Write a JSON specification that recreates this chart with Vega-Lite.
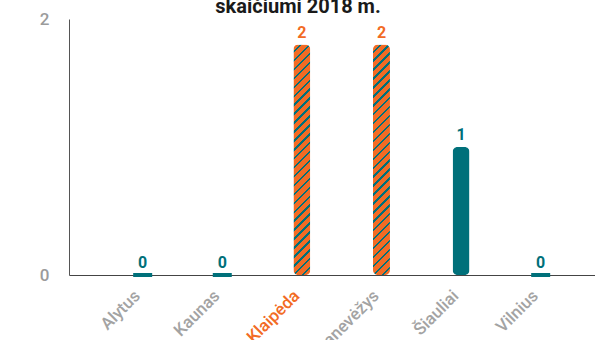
{
  "$schema": "https://vega.github.io/schema/vega-lite/v6.json",
  "width": 526,
  "height": 256,
  "autosize": "none",
  "padding": {"left": 69, "top": 19, "right": 0, "bottom": 65},
  "background": "white",
  "config": {"view": {"stroke": null}},
  "title": {
    "text": "skaičiumi 2018 m.",
    "font": "Roboto",
    "fontSize": 20,
    "fontWeight": "bold",
    "color": "#1a1a1a",
    "anchor": "middle",
    "dx": -34,
    "baseline": "top",
    "offset": -7
  },
  "data": {
    "values": [
      {"city": "Alytus", "value": 0, "label": "0"},
      {"city": "Kaunas", "value": 0, "label": "0"},
      {"city": "Klaipėda", "value": 1.8, "label": "2"},
      {"city": "Panevėžys", "value": 1.8, "label": "2"},
      {"city": "Šiauliai", "value": 1, "label": "1"},
      {"city": "Vilnius", "value": 0, "label": "0"}
    ]
  },
  "encoding": {
    "x": {
      "field": "city",
      "type": "nominal",
      "sort": ["Alytus", "Kaunas", "Klaipėda", "Panevėžys", "Šiauliai", "Vilnius"],
      "scale": {"domain": ["Alytus", "Kaunas", "Klaipėda", "Panevėžys", "Šiauliai", "Vilnius"], "paddingInner": 0, "paddingOuter": 0.304, "align": 0.7},
      "axis": {
        "title": null,
        "labelAngle": -45,
        "labelAlign": "right",
        "labelBaseline": "middle",
        "labelFont": "Roboto",
        "labelFontSize": 17,
        "labelFontWeight": 500,
        "labelColor": {"condition": {"test": "datum.value === 'Klaipėda'", "value": "#f26b24"}, "value": "#a3a3a3"},
        "ticks": false,
        "domainColor": "#444444",
        "labelPadding": 18,
        "labelOffset": -5
      }
    },
    "y": {
      "field": "value",
      "type": "quantitative",
      "scale": {"domain": [0, 2], "nice": false},
      "axis": {
        "title": null,
        "values": [0, 1, 2],
        "format": "d",
        "grid": false,
        "domainColor": "#555555",
        "tickSize": 11,
        "tickColor": {"condition": {"test": "datum.value === 1", "value": "#222222"}, "value": "transparent"},
        "labelExpr": "datum.value === 1 ? '' : datum.label",
        "labelFont": "Roboto",
        "labelFontSize": 17,
        "labelFontWeight": 500,
        "labelColor": "#9b9b9b",
        "labelPadding": 9
      }
    }
  },
  "layer": [
    {
      "transform": [{"filter": "datum.label === '1'"}],
      "mark": {"type": "bar", "size": 17, "cornerRadius": 5, "color": "#00707a"}
    },
    {
      "transform": [{"filter": "datum.label === '2'"}],
      "mark": {
        "type": "bar",
        "size": 17,
        "cornerRadius": 5,
        "color": {
          "gradient": "linear",
          "x1": 0, "y1": 0, "x2": 0.079, "y2": 1.07,
          "stops": [
            {"offset": 0, "color": "#f26b24"}, {"offset": 0.026, "color": "#f26b24"}, {"offset": 0.026, "color": "#00707a"}, {"offset": 0.036, "color": "#00707a"},
            {"offset": 0.036, "color": "#f26b24"}, {"offset": 0.062, "color": "#f26b24"}, {"offset": 0.062, "color": "#00707a"}, {"offset": 0.072, "color": "#00707a"},
            {"offset": 0.072, "color": "#f26b24"}, {"offset": 0.098, "color": "#f26b24"}, {"offset": 0.098, "color": "#00707a"}, {"offset": 0.108, "color": "#00707a"},
            {"offset": 0.108, "color": "#f26b24"}, {"offset": 0.134, "color": "#f26b24"}, {"offset": 0.134, "color": "#00707a"}, {"offset": 0.144, "color": "#00707a"},
            {"offset": 0.144, "color": "#f26b24"}, {"offset": 0.170, "color": "#f26b24"}, {"offset": 0.170, "color": "#00707a"}, {"offset": 0.180, "color": "#00707a"},
            {"offset": 0.180, "color": "#f26b24"}, {"offset": 0.206, "color": "#f26b24"}, {"offset": 0.206, "color": "#00707a"}, {"offset": 0.216, "color": "#00707a"},
            {"offset": 0.216, "color": "#f26b24"}, {"offset": 0.242, "color": "#f26b24"}, {"offset": 0.242, "color": "#00707a"}, {"offset": 0.252, "color": "#00707a"},
            {"offset": 0.252, "color": "#f26b24"}, {"offset": 0.278, "color": "#f26b24"}, {"offset": 0.278, "color": "#00707a"}, {"offset": 0.288, "color": "#00707a"},
            {"offset": 0.288, "color": "#f26b24"}, {"offset": 0.314, "color": "#f26b24"}, {"offset": 0.314, "color": "#00707a"}, {"offset": 0.324, "color": "#00707a"},
            {"offset": 0.324, "color": "#f26b24"}, {"offset": 0.350, "color": "#f26b24"}, {"offset": 0.350, "color": "#00707a"}, {"offset": 0.360, "color": "#00707a"},
            {"offset": 0.360, "color": "#f26b24"}, {"offset": 0.386, "color": "#f26b24"}, {"offset": 0.386, "color": "#00707a"}, {"offset": 0.396, "color": "#00707a"},
            {"offset": 0.396, "color": "#f26b24"}, {"offset": 0.422, "color": "#f26b24"}, {"offset": 0.422, "color": "#00707a"}, {"offset": 0.432, "color": "#00707a"},
            {"offset": 0.432, "color": "#f26b24"}, {"offset": 0.458, "color": "#f26b24"}, {"offset": 0.458, "color": "#00707a"}, {"offset": 0.468, "color": "#00707a"},
            {"offset": 0.468, "color": "#f26b24"}, {"offset": 0.494, "color": "#f26b24"}, {"offset": 0.494, "color": "#00707a"}, {"offset": 0.504, "color": "#00707a"},
            {"offset": 0.504, "color": "#f26b24"}, {"offset": 0.530, "color": "#f26b24"}, {"offset": 0.530, "color": "#00707a"}, {"offset": 0.540, "color": "#00707a"},
            {"offset": 0.540, "color": "#f26b24"}, {"offset": 0.566, "color": "#f26b24"}, {"offset": 0.566, "color": "#00707a"}, {"offset": 0.576, "color": "#00707a"},
            {"offset": 0.576, "color": "#f26b24"}, {"offset": 0.602, "color": "#f26b24"}, {"offset": 0.602, "color": "#00707a"}, {"offset": 0.612, "color": "#00707a"},
            {"offset": 0.612, "color": "#f26b24"}, {"offset": 0.638, "color": "#f26b24"}, {"offset": 0.638, "color": "#00707a"}, {"offset": 0.648, "color": "#00707a"},
            {"offset": 0.648, "color": "#f26b24"}, {"offset": 0.674, "color": "#f26b24"}, {"offset": 0.674, "color": "#00707a"}, {"offset": 0.684, "color": "#00707a"},
            {"offset": 0.684, "color": "#f26b24"}, {"offset": 0.710, "color": "#f26b24"}, {"offset": 0.710, "color": "#00707a"}, {"offset": 0.720, "color": "#00707a"},
            {"offset": 0.720, "color": "#f26b24"}, {"offset": 0.746, "color": "#f26b24"}, {"offset": 0.746, "color": "#00707a"}, {"offset": 0.756, "color": "#00707a"},
            {"offset": 0.756, "color": "#f26b24"}, {"offset": 0.782, "color": "#f26b24"}, {"offset": 0.782, "color": "#00707a"}, {"offset": 0.792, "color": "#00707a"},
            {"offset": 0.792, "color": "#f26b24"}, {"offset": 0.818, "color": "#f26b24"}, {"offset": 0.818, "color": "#00707a"}, {"offset": 0.828, "color": "#00707a"},
            {"offset": 0.828, "color": "#f26b24"}, {"offset": 0.854, "color": "#f26b24"}, {"offset": 0.854, "color": "#00707a"}, {"offset": 0.864, "color": "#00707a"},
            {"offset": 0.864, "color": "#f26b24"}, {"offset": 0.890, "color": "#f26b24"}, {"offset": 0.890, "color": "#00707a"}, {"offset": 0.900, "color": "#00707a"},
            {"offset": 0.900, "color": "#f26b24"}, {"offset": 0.926, "color": "#f26b24"}, {"offset": 0.926, "color": "#00707a"}, {"offset": 0.936, "color": "#00707a"},
            {"offset": 0.936, "color": "#f26b24"}, {"offset": 0.962, "color": "#f26b24"}, {"offset": 0.962, "color": "#00707a"}, {"offset": 0.972, "color": "#00707a"},
            {"offset": 0.972, "color": "#f26b24"}, {"offset": 0.998, "color": "#f26b24"}, {"offset": 0.998, "color": "#00707a"}, {"offset": 1, "color": "#00707a"}
          ]
        }
      }
    },
    {
      "transform": [{"filter": "datum.value === 0"}],
      "mark": {"type": "tick", "size": 19, "thickness": 4, "color": "#00707a", "opacity": 1}
    },
    {
      "mark": {"type": "text", "font": "Roboto", "fontSize": 16, "fontWeight": "bold", "baseline": "bottom", "dy": -4},
      "encoding": {
        "text": {"field": "label"},
        "color": {
          "condition": {"test": "datum.label === '2'", "value": "#f26b24"},
          "value": "#00707a"
        }
      }
    }
  ]
}
